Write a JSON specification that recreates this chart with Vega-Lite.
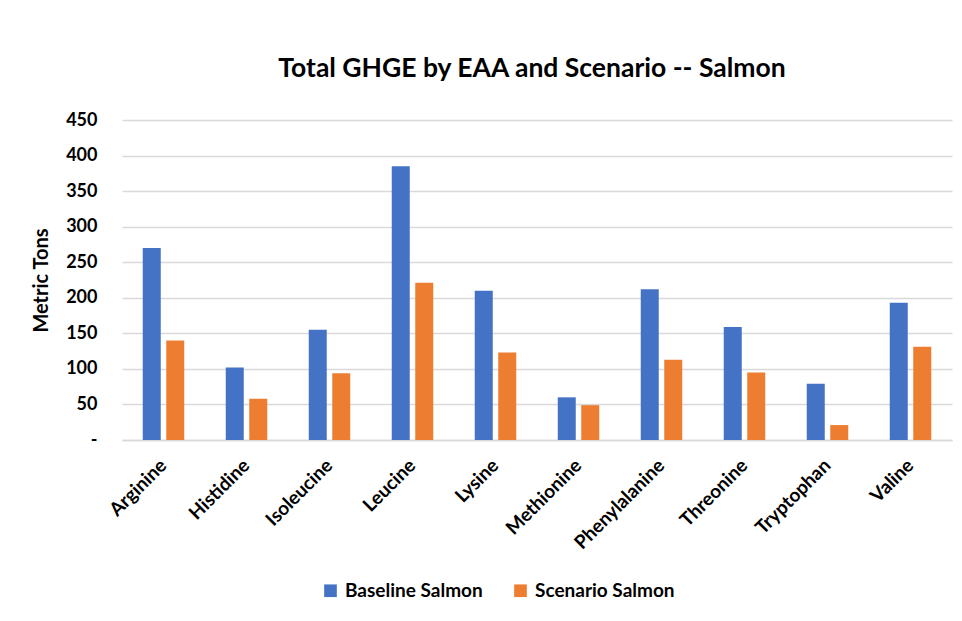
{
  "$schema": "https://vega.github.io/schema/vega-lite/v6.json",
  "width": 830,
  "height": 320,
  "autosize": {"type": "none"},
  "padding": {"left": 122, "top": 120, "right": 10, "bottom": 181},
  "background": "white",
  "title": {
    "text": "Total GHGE by EAA and Scenario -- Salmon",
    "font": "Lato",
    "fontSize": 26.5,
    "fontWeight": "bold",
    "color": "#000000",
    "anchor": "middle",
    "offset": 29,
    "dx": -5
  },
  "data": {
    "values": [
      {"eaa": "Arginine", "series": "Baseline Salmon", "tons": 270},
      {"eaa": "Arginine", "series": "Scenario Salmon", "tons": 140},
      {"eaa": "Histidine", "series": "Baseline Salmon", "tons": 102},
      {"eaa": "Histidine", "series": "Scenario Salmon", "tons": 58},
      {"eaa": "Isoleucine", "series": "Baseline Salmon", "tons": 155},
      {"eaa": "Isoleucine", "series": "Scenario Salmon", "tons": 94},
      {"eaa": "Leucine", "series": "Baseline Salmon", "tons": 385},
      {"eaa": "Leucine", "series": "Scenario Salmon", "tons": 221},
      {"eaa": "Lysine", "series": "Baseline Salmon", "tons": 210},
      {"eaa": "Lysine", "series": "Scenario Salmon", "tons": 123},
      {"eaa": "Methionine", "series": "Baseline Salmon", "tons": 60},
      {"eaa": "Methionine", "series": "Scenario Salmon", "tons": 49},
      {"eaa": "Phenylalanine", "series": "Baseline Salmon", "tons": 212},
      {"eaa": "Phenylalanine", "series": "Scenario Salmon", "tons": 113},
      {"eaa": "Threonine", "series": "Baseline Salmon", "tons": 159},
      {"eaa": "Threonine", "series": "Scenario Salmon", "tons": 95},
      {"eaa": "Tryptophan", "series": "Baseline Salmon", "tons": 79},
      {"eaa": "Tryptophan", "series": "Scenario Salmon", "tons": 21},
      {"eaa": "Valine", "series": "Baseline Salmon", "tons": 193},
      {"eaa": "Valine", "series": "Scenario Salmon", "tons": 131}
    ]
  },
  "mark": {"type": "bar"},
  "encoding": {
    "x": {
      "field": "eaa",
      "type": "nominal",
      "sort": null,
      "scale": {"paddingInner": 0.5, "paddingOuter": 0.25},
      "axis": {
        "title": null,
        "labelAngle": -45,
        "labelAlign": "right",
        "labelBaseline": "middle",
        "labelFont": "Lato",
        "labelFontSize": 19,
        "labelFontWeight": "bold",
        "labelColor": "#000000",
        "labelPadding": 22,
        "ticks": false,
        "domain": true,
        "domainColor": "#D9D9D9",
        "domainWidth": 1.5
      }
    },
    "xOffset": {
      "field": "series",
      "type": "nominal",
      "scale": {"paddingInner": 0.234, "paddingOuter": 0}
    },
    "y": {
      "field": "tons",
      "type": "quantitative",
      "scale": {"domain": [0, 450], "nice": false},
      "axis": {
        "title": "Metric Tons",
        "titleFont": "Lato",
        "titleFontSize": 20,
        "titleFontWeight": "bold",
        "titleColor": "#000000",
        "titlePadding": 14,
        "values": [0, 50, 100, 150, 200, 250, 300, 350, 400, 450],
        "labelExpr": "datum.value == 0 ? '-' : datum.label",
        "labelFont": "Lato",
        "labelFontSize": 18,
        "labelFontWeight": "bold",
        "labelColor": "#000000",
        "labelPadding": 25,
        "ticks": false,
        "domain": false,
        "grid": true,
        "gridColor": "#D9D9D9",
        "gridWidth": 1.5
      }
    },
    "color": {
      "field": "series",
      "type": "nominal",
      "scale": {
        "domain": ["Baseline Salmon", "Scenario Salmon"],
        "range": ["#4472C4", "#ED7D31"]
      },
      "legend": {
        "title": null,
        "orient": "none",
        "direction": "horizontal",
        "legendX": 199,
        "legendY": 461,
        "symbolType": "square",
        "symbolSize": 160,
        "symbolStrokeWidth": 0,
        "labelFont": "Lato",
        "labelFontSize": 19,
        "labelFontWeight": "bold",
        "labelColor": "#000000",
        "columnPadding": 28,
        "labelOffset": 5
      }
    }
  },
  "config": {
    "view": {"stroke": null},
    "axis": {"labelOverlap": false}
  }
}
